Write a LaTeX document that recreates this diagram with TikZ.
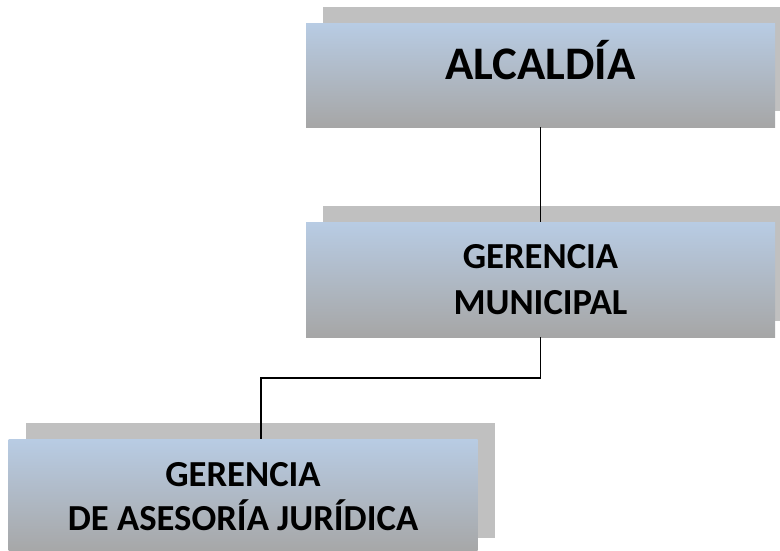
\documentclass[tikz,border=0pt]{standalone}
\usepackage{fontspec}
\setmainfont{Carlito}
\usetikzlibrary{shadings,shadows}

\tikzset{
  caja/.style={draw=none, inner sep=0pt, align=center, font=\bfseries,
    minimum width=351.75pt,
    top color={rgb,255:red,184;green,204;blue,228},
    bottom color={rgb,255:red,166;green,166;blue,166},
    general shadow={fill={rgb,255:red,192;green,192;blue,192},
      shadow xshift=12.75pt, shadow yshift=12pt}},
  linea/.style={line width=1pt, color=black}
}

\begin{document}
\begin{tikzpicture}[x=0.75pt,y=0.75pt,yscale=-1,xscale=1]
\useasboundingbox (0,0) rectangle (780,550);
\clip (0,0) rectangle (780,550);

% Boxes
\node[caja, minimum height=78pt, text height=24pt, text depth=18pt,
  font=\bfseries\fontsize{35}{36}\selectfont] (alcaldia) at (540.5,75) {ALCALD\'IA};
\node[caja, minimum height=86.25pt,
  font=\bfseries\fontsize{27.5}{34.5}\selectfont] (gerencia) at (540.5,279.5) {GERENCIA\\MUNICIPAL};
\node[caja, minimum height=86.25pt,
  font=\bfseries\fontsize{27.5}{33}\selectfont] (asesoria) at (243,496.5) {GERENCIA\\DE ASESOR\'IA JUR\'IDICA};

% Connectors
\coordinate (codo) at (261,378);
\draw[linea] (alcaldia.south) -- (gerencia.north);
\draw[linea] (gerencia.south) |- (codo) -- (codo |- asesoria.north);

\end{tikzpicture}
\end{document}
